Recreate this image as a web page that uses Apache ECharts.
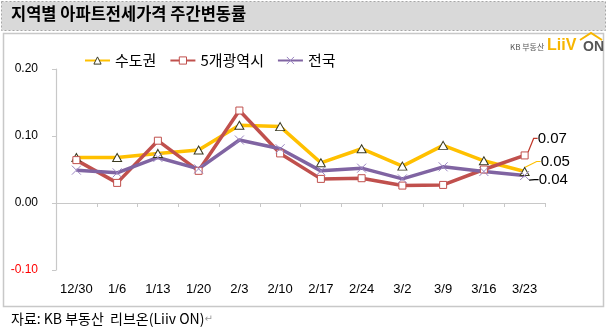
<!DOCTYPE html>
<html><head><meta charset="utf-8">
<script src="https://cdn.jsdelivr.net/npm/echarts@6/dist/echarts.min.js"></script>
<style>html,body{margin:0;padding:0;background:#fff}#c{width:608px;height:332px}</style>
</head><body><div id="c"></div>
<script>
const categories = ['12/30','1/6','1/13','1/20','2/3','2/10','2/17','2/24','3/2','3/9','3/16','3/23'];
const capital  = [0.068,0.068,0.074,0.079,0.116,0.114,0.060,0.081,0.055,0.086,0.063,0.047];
const metro    = [0.064,0.030,0.093,0.048,0.138,0.074,0.036,0.037,0.026,0.027,0.050,0.071];
const national = [0.049,0.045,0.068,0.051,0.094,0.081,0.048,0.052,0.036,0.054,0.047,0.041];
const seriesNames = ['수도권','5개광역시','전국'];
const yMin = -0.1, yMax = 0.2, yInterval = 0.1;

const NUM = 'Liberation Sans, Arial, sans-serif';
const KR = 'Noto Sans CJK KR, sans-serif';
const last = categories.length - 1;

function withEndLabel(arr, color) {
  return arr.map((v, i) => i === last ? {
    value: v,
    label: {show: true, position: 'right', distance: 5, formatter: p => p.value.toFixed(2),
            fontFamily: NUM, fontSize: 15, color: '#000'},
    labelLine: {show: true, length2: 4, lineStyle: {color: color, width: 1.2}}
  } : v);
}
function layoutFor(dx, dy) {
  return p => p.dataIndex === last ? {dx: dx, dy: dy} : {};
}

const chart = echarts.init(document.getElementById('c'), null, {renderer: 'canvas'});
chart.setOption({
  animation: false,
  backgroundColor: '#fff',
  grid: {left: 56, right: 63, top: 69, bottom: 62, containLabel: false},
  legend: {
    left: 79, top: 48, itemWidth: 25, itemHeight: 9, itemGap: 13,
    textStyle: {fontFamily: KR, fontSize: 15, color: '#000'},
    data: [
      {name: seriesNames[0], itemStyle: {color: '#fff', borderColor: '#3a3a20', borderWidth: 1}},
      {name: seriesNames[1], itemStyle: {color: '#fff', borderColor: '#C0504D', borderWidth: 1}},
      {name: seriesNames[2], itemStyle: {color: 'none', borderColor: '#9b86c2', borderWidth: 1}}
    ]
  },
  xAxis: [{
    type: 'category', data: categories, boundaryGap: true,
    axisLine: {onZero: true, lineStyle: {color: '#c8c8c8', width: 1.2}},
    axisTick: {show: true, interval: 0, length: 4, lineStyle: {color: '#c8c8c8'}},
    axisLabel: {show: false}
  }, {
    type: 'category', data: categories, boundaryGap: true, position: 'bottom',
    axisLine: {show: false, onZero: false}, axisTick: {show: false},
    axisLabel: {show: true, interval: 0, margin: 13, fontFamily: NUM, fontSize: 13, color: '#000'}
  }],
  yAxis: {
    type: 'value', min: yMin, max: yMax, interval: yInterval,
    axisLine: {show: true, lineStyle: {color: '#c8c8c8', width: 1.2}},
    axisTick: {show: true, length: 4, lineStyle: {color: '#c8c8c8'}},
    splitLine: {show: false},
    axisLabel: {margin: 18, fontFamily: NUM, fontSize: 12,
      formatter: v => v.toFixed(2),
      color: v => (v < 0 ? '#ff0000' : '#000')}
  },
  series: [{
    name: seriesNames[0], type: 'line', xAxisIndex: 0, data: withEndLabel(capital, '#FFC000'),
    symbol: 'triangle', symbolSize: [9, 8], showAllSymbol: true,
    lineStyle: {color: '#FFC000', width: 3.5},
    itemStyle: {color: '#fff', borderColor: '#3a3a20', borderWidth: 1},
    labelLayout: layoutFor(6, -10)
  }, {
    name: seriesNames[1], type: 'line', xAxisIndex: 0, data: withEndLabel(metro, '#C0392B'),
    symbol: 'rect', symbolSize: 7, showAllSymbol: true,
    lineStyle: {color: '#C0504D', width: 3.5},
    itemStyle: {color: '#fff', borderColor: '#C0504D', borderWidth: 1},
    labelLayout: layoutFor(4, -17)
  }, {
    name: seriesNames[2], type: 'line', xAxisIndex: 0, data: withEndLabel(national, '#000'),
    symbol: 'path://M0,0 L10,10 M10,0 L0,10', symbolSize: 9, showAllSymbol: true,
    lineStyle: {color: '#8064A2', width: 3.5},
    itemStyle: {color: 'none', borderColor: '#9b86c2', borderWidth: 1},
    labelLayout: layoutFor(2, 4)
  }],
  graphic: [
    {type: 'rect', shape: {x: 1.5, y: 1.5, width: 604, height: 29},
     style: {fill: '#d9d9d9', stroke: '#a6a6a6', lineWidth: 1, lineDash: [2, 2]}, silent: true},
    {type: 'text', left: 11, top: 5,
     style: {text: '지역별 아파트전세가격 주간변동률', fontFamily: KR, fontSize: 16.5, fontWeight: 'bold', fill: '#000'}},
    {type: 'rect', shape: {x: 3.5, y: 33.5, width: 600, height: 273},
     style: {fill: 'none', stroke: '#c8c8c8', lineWidth: 1.5}, silent: true, z: -1},
    {type: 'text', left: 11, top: 312,
     style: {text: '자료: KB 부동산  리브온(Liiv ON){r|↵}', fontFamily: KR, fontSize: 14, fill: '#000',
             rich: {r: {fontFamily: 'DejaVu Sans', fontSize: 10, fill: '#999'}}}},
    {type: 'text', left: 510, top: 43,
     style: {text: 'KB 부동산', fontFamily: KR, fontSize: 8, fill: '#555'}},
    {type: 'text', left: 547, top: 38,
     style: {text: 'LiiV', fontFamily: 'Liberation Sans', fontSize: 16, fontWeight: 'bold', fill: '#f7b500'}},
    {type: 'text', left: 583, top: 40,
     style: {text: 'ON', fontFamily: 'Liberation Sans', fontSize: 14, fontWeight: 'bold', fill: '#555'}},
    {type: 'polyline', shape: {points: [[580, 40], [591, 33], [602, 40]]},
     style: {stroke: '#f7b500', lineWidth: 2, fill: 'none'}}
  ]
});
</script></body></html>
